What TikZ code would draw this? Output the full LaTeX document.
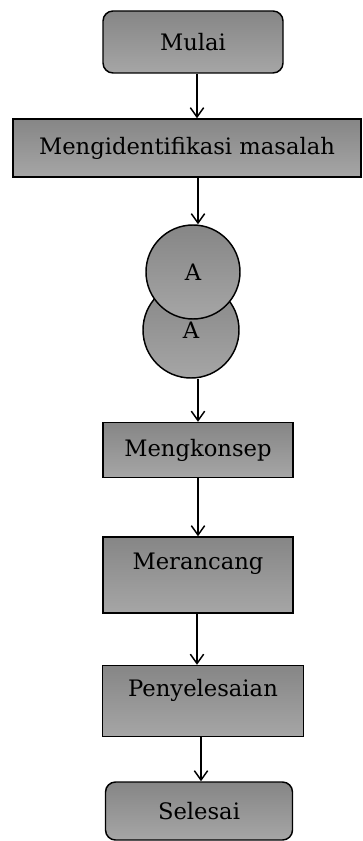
\documentclass[tikz,border=0pt]{standalone}
\usepackage{fontspec}
\setmainfont{DejaVu Serif}
\usetikzlibrary{arrows.meta, positioning}

\begin{document}
\begin{tikzpicture}[
    x=0.75pt, y=-0.75pt,
    font=\rmfamily\fontsize{17}{20}\selectfont,
    % Node styles
    box/.style={rectangle, draw, line width=1.1pt, top color=gray!95, bottom color=gray!70, align=center, inner sep=0pt},
    terminal/.style={box, rounded corners=7.5pt},
    connector/.style={circle, draw, line width=1.1pt, top color=gray!95, bottom color=gray!70, inner sep=0pt},
    upper/.style={text depth=20pt},
    arr/.style={-{Straight Barb[length=7pt, width=10pt]}, line width=1.1pt},
]
\useasboundingbox (0,0) rectangle (363,841);

% Start and problem
\node[terminal, minimum width=135pt, minimum height=46.5pt] (mulai) at (193,42) {Mulai};
\node[box, minimum width=261pt, minimum height=43.5pt] (identifikasi) at (187,148) {Mengidentifikasi masalah};

% Off-page connectors (lower one first)
\node[connector, minimum size=72pt] (conB) at (191,330) {A};
\node[connector, minimum size=70.5pt] (conA) at (193,272) {A};

% Process steps
\node[box, minimum width=142.5pt, minimum height=41.25pt] (konsep) at (198,450) {Mengkonsep};
\node[box, upper, minimum width=142.5pt, minimum height=57pt] (rancang) at (198,575) {Merancang};
\node[box, upper, minimum width=150.75pt, minimum height=53.25pt] (penyelesaian) at (203,701) {Penyelesaian};
\node[terminal, minimum width=140.25pt, minimum height=43.5pt] (selesai) at (199,811) {Selesai};

% Arrows
\draw[arr] (mulai.south) ++(4,0) coordinate (m1) -- (m1 |- identifikasi.north);
\draw[arr] (conA.north |- identifikasi.south) ++(5,0) coordinate (i1) -- (i1 |- conA.north);
\draw[arr] (konsep.north |- conB.south) -- (konsep.north);
\draw[arr] (konsep.south) -- (rancang.north);
\draw[arr] (rancang.south) ++(-1,0) coordinate (r1) -- (r1 |- penyelesaian.north);
\draw[arr] (selesai.north |- penyelesaian.south) ++(2,0) coordinate (p1) -- (p1 |- selesai.north);

\end{tikzpicture}
\end{document}
